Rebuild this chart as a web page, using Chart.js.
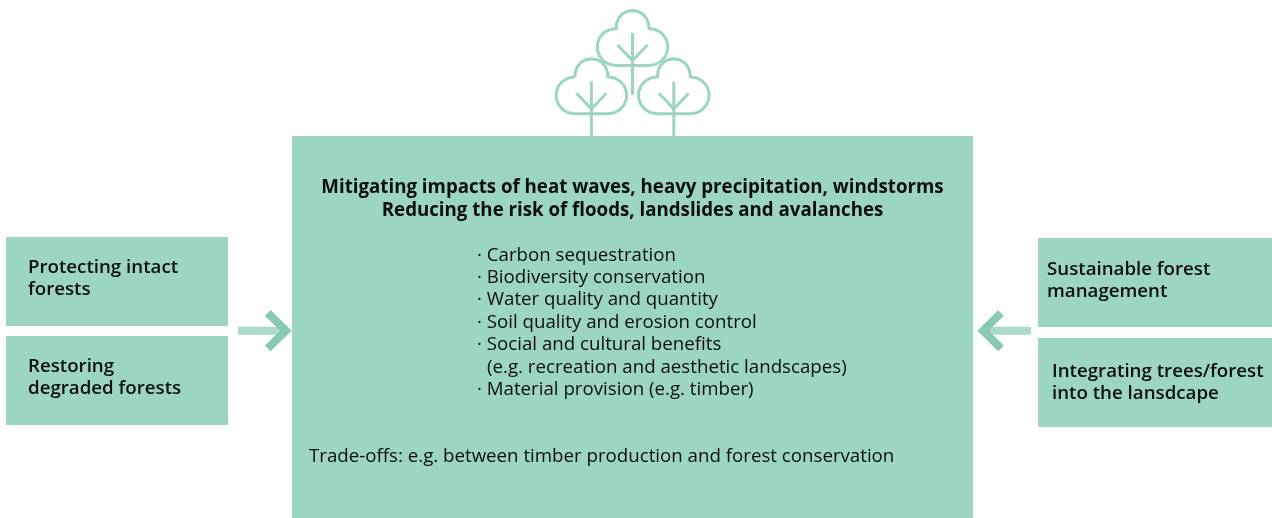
<!DOCTYPE html>
<html>
<head>
<meta charset="utf-8">
<title>Forest measures</title>
<script src="https://cdn.jsdelivr.net/npm/chart.js@4/dist/chart.umd.min.js"></script>
<style>
    html, body { margin: 0; padding: 0; background: #fff; }
    canvas { display: block; }
</style>
</head>
<body>
<canvas id="chart" width="1272" height="518"></canvas>
<script>
const boxLeft = [292, 6, 6, 1038, 1038];
const boxRight = [973, 228, 228, 1272, 1272];
const boxTop = [136, 237, 336, 238, 338];
const boxBottom = [518, 326, 425, 327, 427];

// one crown outline, dx from the trunk and y from the top of the picture
const crownDx = [-16.5, -16.1, -14.1, -10.5, -5.6, 0, 5.6, 10.5, 14.1, 16.1, 16.5, 23, 28.7, 32.9, 35.1, 35.1, 32.9, 28.7, 23, 16.5, -16.5, -23, -28.7, -32.9, -35.1, -35.1, -32.9, -28.7, -23, -16.5];
const crownY = [28.5, 23.9, 18.5, 14.2, 11.4, 10.4, 11.4, 14.2, 18.5, 23.9, 28.5, 29.6, 32.8, 37.7, 43.8, 50.2, 56.2, 61.2, 64.4, 65.5, 65.5, 64.4, 61.2, 56.2, 50.2, 43.8, 37.7, 32.8, 29.6, 28.5];
const treeCentre = [632.5, 591.4, 673.8];
const treeDrop = [0, 48.3, 48.3];
const trunkTop = [33, 81.5, 81.5];
const trunkBottom = [95, 136, 136];
const branchDx = [-15, 0, 15];
const branchY = [45, 60.5, 45];

const arrowShaftX = [[238, 287], [983, 1031]];
const arrowShaftY = 330.7;
const arrowHeadX = [[267.7, 286, 267.7], [1001, 983, 1001]];
const arrowHeadY = [313, 330.7, 348.4];

const headLines = [
    "Mitigating impacts of heat waves, heavy precipitation, windstorms",
    "Reducing the risk of floods, landslides and avalanches",
];
const headY = [193, 216];
const listLines = [
    "· Carbon sequestration",
    "· Biodiversity conservation",
    "· Water quality and quantity",
    "· Soil quality and erosion control",
    "· Social and cultural benefits",
    "(e.g. recreation and aesthetic landscapes)",
    "· Material provision (e.g. timber)",
];
const listX = [477, 477, 477, 477, 477, 487, 477];
const listY = [261, 283, 305, 328, 350, 373, 395];
const tradeOff = "Trade-offs: e.g. between timber production and forest conservation";
const sideLines = ["Protecting intact", "forests", "Restoring", "degraded forests", "Sustainable forest", "management", "Integrating trees/forest", "into the lansdcape"];
const sideX = [28, 28, 28, 28, 1047, 1047, 1052, 1052];
const sideY = [273, 295, 372, 394, 275, 297, 377, 399];

const green = "#9dd5c3";
const datasets = [];

boxLeft.forEach((left, i) => {
    datasets.push({
        data: [{ x: left, y: boxBottom[i] }, { x: boxRight[i], y: boxBottom[i] }],
        fill: { value: boxTop[i] },
        backgroundColor: green,
        borderWidth: 0,
        pointRadius: 0,
    });
});

function strokeLine(xs, ys, colour, width) {
    datasets.push({
        data: xs.map((x, i) => ({ x: x, y: ys[i] })),
        borderColor: colour,
        borderWidth: width,
        borderJoinStyle: "miter",
        pointRadius: 0,
        fill: false,
    });
}

treeCentre.forEach((cx, t) => {
    strokeLine(crownDx.map((d) => cx + d), crownY.map((y) => y + treeDrop[t]), green, 3);
    strokeLine([cx, cx], [trunkTop[t], trunkBottom[t]], green, 3);
    strokeLine(branchDx.map((d) => cx + d), branchY.map((y) => y + treeDrop[t]), green, 3);
});

arrowHeadX.forEach((xs, a) => {
    strokeLine(xs, arrowHeadY, "#87c9b5", 8);
    strokeLine(arrowShaftX[a], [arrowShaftY, arrowShaftY], "rgba(157, 213, 195, 0.85)", 8);
});

const textPlugin = {
    id: "diagramText",
    afterDatasetsDraw(chart) {
        const ctx = chart.ctx;
        const x = chart.scales.x;
        const y = chart.scales.y;
        const put = (text, px, py, font, align) => {
            ctx.font = font;
            ctx.textAlign = align;
            ctx.fillText(text, x.getPixelForValue(px), y.getPixelForValue(py));
        };
        ctx.save();
        ctx.fillStyle = "#0a0f0d";
        ctx.textBaseline = "alphabetic";
        headLines.forEach((t, i) => put(t, 632.5, headY[i], "700 18.7px 'Open Sans'", "center"));
        listLines.forEach((t, i) => put(t, listX[i], listY[i], "400 18.7px 'Open Sans'", "left"));
        put(tradeOff, 309, 462, "400 18.7px 'Open Sans'", "left");
        sideLines.forEach((t, i) => put(t, sideX[i], sideY[i], "600 18.7px 'Open Sans'", "left"));
        ctx.restore();
    },
};

new Chart(document.getElementById("chart"), {
    type: "scatter",
    data: { datasets: datasets },
    options: {
        responsive: false,
        animation: false,
        showLine: true,
        layout: { padding: 0 },
        plugins: { legend: { display: false }, tooltip: { enabled: false }, title: { display: false } },
        scales: {
            x: { type: "linear", min: 0, max: 1272, display: false },
            y: { type: "linear", min: 0, max: 518, reverse: true, display: false },
        },
    },
    plugins: [textPlugin],
});
</script>
</body>
</html>
